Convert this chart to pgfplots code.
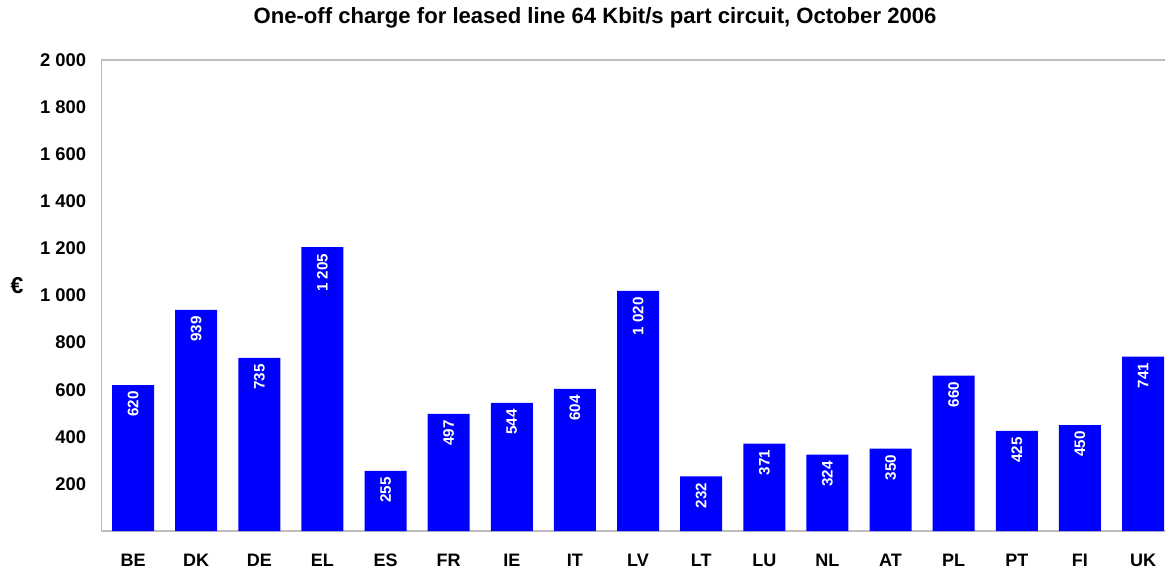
\documentclass[border=0pt]{standalone}
\usepackage{fontspec}
\setmainfont{Liberation Sans}
\usepackage{pgfplots}
\pgfplotsset{compat=1.18}
\definecolor{barblue}{RGB}{0,0,255}
\definecolor{frame}{RGB}{190,190,190}
\begin{document}
\begin{tikzpicture}
\begin{axis}[
  at={(50.75pt,19.5pt)}, anchor=south west,
  scale only axis, width=536.55pt, height=235.5pt,
  xmin=-0.5, xmax=16.5, ymin=0, ymax=2000,
  ybar, bar width=21pt,
  axis line style={frame, line width=0.75pt},
  major tick length=0pt,
  xtick={0,...,16},
  xticklabels={BE,DK,DE,EL,ES,FR,IE,IT,LV,LT,LU,NL,AT,PL,PT,FI,UK},
  ytick={200,400,...,2000},
  xticklabel style={font=\bfseries\fontsize{9}{11}\selectfont, anchor=base, inner sep=0pt, yshift=-17.75pt},
  yticklabel style={font=\bfseries\fontsize{9.2}{11}\selectfont, anchor=east, inner sep=0pt, xshift=-7.5pt},
  title={One-off charge for leased line 64 Kbit/s part circuit, October 2006},
  every axis title/.style={font=\bfseries\fontsize{11.05}{13}\selectfont, at={(axis description cs:0.4599,1.089)}, anchor=center, inner sep=0pt},
  ylabel={€},
  every axis y label/.style={at={(axis description cs:-0.0787,0.522)}, anchor=center, font=\bfseries\fontsize{11.5}{13}\selectfont},
  nodes near coords,
  nodes near coords style={rotate=90, anchor=east, white, font=\bfseries\fontsize{7.6}{9}\selectfont, inner sep=3pt},
  /pgf/number format/1000 sep={\ },
  /pgf/number format/assume math mode=true,
]
\addplot[fill=barblue, draw=none] coordinates {
(0,620) (1,939) (2,735) (3,1205) (4,255) (5,497) (6,544) (7,604) (8,1020)
(9,232) (10,371) (11,324) (12,350) (13,660) (14,425) (15,450) (16,741)
};
\end{axis}
\pgfresetboundingbox
\path (0,0) rectangle (582.5pt,285pt);
\end{tikzpicture}
\end{document}
